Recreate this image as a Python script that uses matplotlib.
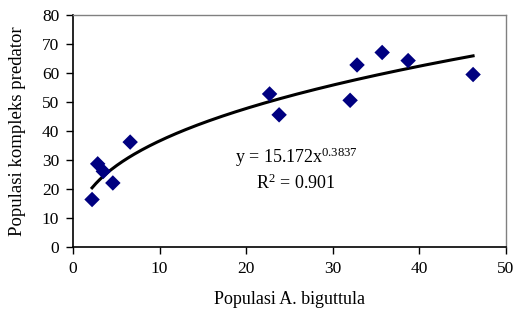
import numpy as np
import matplotlib
matplotlib.use("Agg")
import matplotlib.pyplot as plt

plt.rcParams["font.family"] = ["Liberation Serif", "DejaVu Serif"]
plt.rcParams["mathtext.fontset"] = "custom"
plt.rcParams["mathtext.rm"] = "Liberation Serif"
plt.rcParams["mathtext.it"] = "Liberation Serif"

pop_biguttula = [2.2, 2.85, 3.5, 4.6, 6.6, 22.7, 23.8, 32.0, 32.8, 35.7, 38.7, 46.2]
pop_predator = [16.5, 28.8, 26.2, 22.2, 36.3, 52.9, 45.7, 50.7, 62.9, 67.2, 64.4, 59.6]

# power trendline shown on the chart
COEF_A = 15.172
COEF_B = 0.3837
R2 = 0.901

fig = plt.figure(figsize=(5.16, 3.2), dpi=100)
ax = fig.add_axes([0.1415, 0.227, 0.8391, 0.725])

ax.scatter(pop_biguttula, pop_predator, marker="D", s=62, color="#000080",
           edgecolors="none", zorder=3)

x_fit = np.linspace(min(pop_biguttula), max(pop_biguttula), 200)
ax.plot(x_fit, COEF_A * x_fit ** COEF_B, color="black", lw=2.2, zorder=2)

ax.text(25.75, 31.1, f"y = {COEF_A}x$^{{\\mathrm{{{COEF_B}}}}}$", ha="center",
        va="center", fontsize=13)
ax.text(25.75, 22.2, f"R$^{{\\mathrm{{2}}}}$ = {R2}", ha="center", va="center",
        fontsize=13)

ax.set_xlim(0, 50)
ax.set_ylim(0, 80)
ax.set_xticks(range(0, 51, 10))
ax.set_yticks(range(0, 81, 10))
ax.tick_params(direction="out", length=5, width=1, labelsize=12.5, pad=5)

for side in ["left", "bottom"]:
    ax.spines[side].set_color("black")
    ax.spines[side].set_linewidth(1.2)
for side in ["top", "right"]:
    ax.spines[side].set_color("#808080")
    ax.spines[side].set_linewidth(1.0)

ax.set_xlabel("Populasi A. biguttula", fontsize=13, labelpad=10)
ax.set_ylabel("Populasi kompleks predator", fontsize=13.5, labelpad=11)

fig.savefig("out.png", dpi=100)
